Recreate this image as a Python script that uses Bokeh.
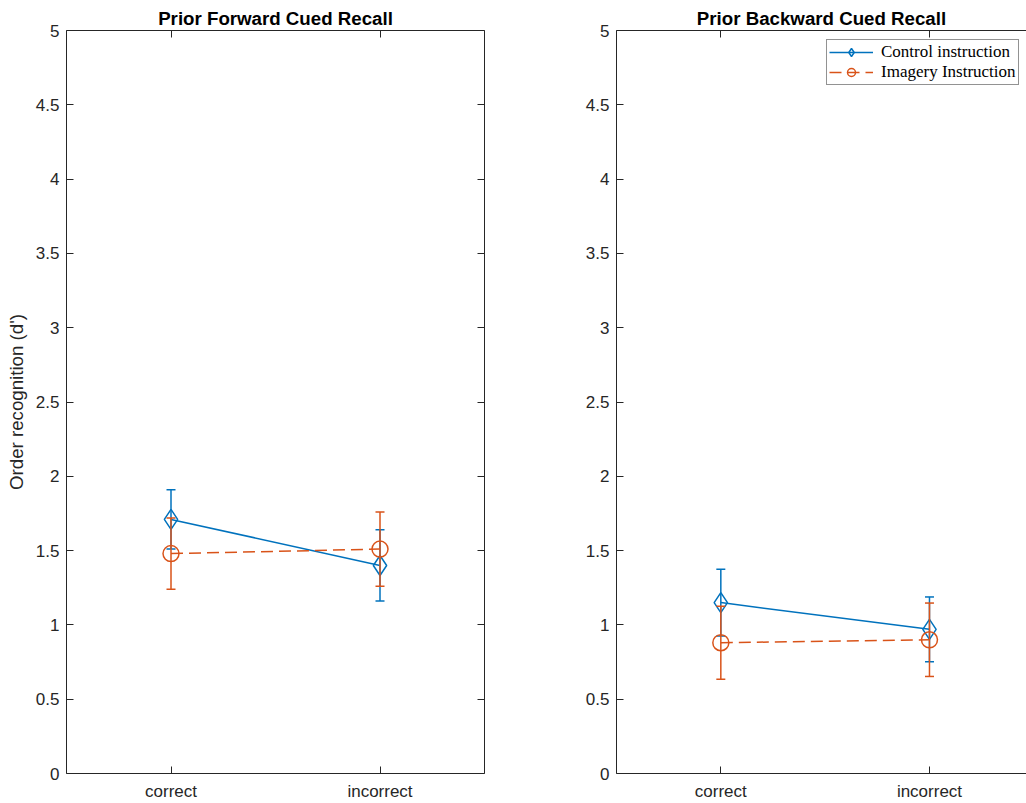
from bokeh.plotting import figure
from bokeh.layouts import row
from bokeh.models import (ColumnDataSource, Range1d, LinearAxis, FixedTicker,
                          CustomJSTickFormatter, CustomLabelingPolicy,
                          Legend, LegendItem)
from bokeh.embed import file_html
from bokeh.resources import INLINE

# --- data -------------------------------------------------------------
categories = ["correct", "incorrect"]
y_ticks = [0, 0.5, 1, 1.5, 2, 2.5, 3, 3.5, 4, 4.5, 5]

fwd_control_mean = [1.71, 1.40]
fwd_control_err = [0.20, 0.24]
fwd_imagery_mean = [1.48, 1.51]
fwd_imagery_err = [0.24, 0.25]

bwd_control_mean = [1.15, 0.97]
bwd_control_err = [0.225, 0.218]
bwd_imagery_mean = [0.88, 0.90]
bwd_imagery_err = [0.245, 0.247]

# --- style ------------------------------------------------------------
BLUE = "#0072BD"
ORANGE = "#D95319"
AXC = "#262626"
SANS = "Liberation Sans"
SERIF = "Liberation Serif"
TICK_FS = "17px"
LABEL_FS = "18.7px"

x_pos = [i + 1 for i in range(len(categories))]
x_labels = {i + 1: c for i, c in enumerate(categories)}


def style_axis(ax, show_labels=True):
    ax.axis_line_color = AXC
    ax.axis_line_width = 1
    ax.major_tick_line_color = AXC
    ax.major_tick_in = 7
    ax.major_tick_out = 0
    ax.minor_tick_line_color = None
    ax.major_label_text_font = SANS
    ax.major_label_text_font_size = TICK_FS
    ax.major_label_text_color = AXC
    if not show_labels:
        # tick marks only (box sides): no labels drawn
        ax.major_label_text_font_size = "0px"
        ax.major_label_standoff = 0
        ax.major_label_policy = CustomLabelingPolicy(code="return [];")


def add_series(p, mean, err, color, marker, size, dash):
    lo = [m - e for m, e in zip(mean, err)]
    hi = [m + e for m, e in zip(mean, err)]
    src = ColumnDataSource(dict(x=x_pos, m=mean, lo=lo, hi=hi))
    p.segment(x0="x", y0="lo", x1="x", y1="hi", source=src,
              line_color=color, line_width=1.5)
    p.scatter(x="x", y="lo", source=src, marker="dash", size=9,
              line_color=color, line_width=1.5)
    p.scatter(x="x", y="hi", source=src, marker="dash", size=9,
              line_color=color, line_width=1.5)
    ln = p.line(x="x", y="m", source=src, line_color=color, line_width=1.5,
                line_dash=dash)
    mk = p.scatter(x="x", y="m", source=src, marker=marker, size=size,
                   line_color=color, line_width=1.5, fill_color=None)
    return ln, mk


def make_panel(title, width, x_end, border_left, border_right, right_spine,
               control, imagery, ylabel=None):
    p = figure(width=width, height=803, output_backend="svg",
               toolbar_location=None, title=title,
               x_range=Range1d(0.5, x_end), y_range=Range1d(0, 5),
               min_border_left=border_left, min_border_right=border_right,
               min_border_top=30, min_border_bottom=30,
               x_axis_location=None, y_axis_location=None)
    p.outline_line_color = None
    p.grid.visible = False
    p.background_fill_color = "white"
    p.border_fill_color = "white"

    p.title.align = "center"
    p.title.text_font = SANS
    p.title.text_font_size = LABEL_FS
    p.title.text_font_style = "bold"
    p.title.text_color = "#000000"
    p.title.standoff = 4

    xb = LinearAxis(ticker=FixedTicker(ticks=x_pos),
                    major_label_overrides=x_labels)
    style_axis(xb)
    xb.major_label_standoff = 8
    p.add_layout(xb, "below")

    xt = LinearAxis(ticker=FixedTicker(ticks=x_pos))
    style_axis(xt, show_labels=False)
    p.add_layout(xt, "above")

    yl = LinearAxis(ticker=FixedTicker(ticks=y_ticks),
                    formatter=CustomJSTickFormatter(code="return tick.toString();"))
    style_axis(yl)
    yl.major_label_standoff = 7
    if ylabel:
        yl.axis_label = ylabel
        yl.axis_label_text_font = SANS
        yl.axis_label_text_font_size = LABEL_FS
        yl.axis_label_text_font_style = "normal"
        yl.axis_label_text_color = AXC
        yl.axis_label_standoff = 6
    p.add_layout(yl, "left")

    if right_spine:
        yr = LinearAxis(ticker=FixedTicker(ticks=y_ticks))
        style_axis(yr, show_labels=False)
        p.add_layout(yr, "right")

    c_ln, c_mk = add_series(p, control[0], control[1], BLUE, "diamond", 20, "solid")
    i_ln, i_mk = add_series(p, imagery[0], imagery[1], ORANGE, "circle", 16, "12 6")
    return p, (c_ln, c_mk), (i_ln, i_mk)


p1, _, _ = make_panel("Prior Forward Cued Recall", 540, 2.5, 66, 56, True,
                      (fwd_control_mean, fwd_control_err),
                      (fwd_imagery_mean, fwd_imagery_err),
                      ylabel="Order recognition (d')")

p2, ctrl, imag = make_panel("Prior Backward Cued Recall", 486, 2.465, 76, 0, False,
                            (bwd_control_mean, bwd_control_err),
                            (bwd_imagery_mean, bwd_imagery_err))

legend = Legend(items=[LegendItem(label="Control instruction", renderers=list(ctrl)),
                       LegendItem(label="Imagery Instruction", renderers=list(imag))],
                location=(210, 688))
legend.label_text_font = SERIF
legend.label_text_font_size = "17px"
legend.label_text_color = "#000000"
legend.glyph_width = 44
legend.glyph_height = 20
legend.label_height = 20
legend.label_standoff = 8
legend.spacing = 0
legend.padding = 2
legend.border_line_color = AXC
legend.border_line_width = 1
legend.background_fill_color = "white"
legend.background_fill_alpha = 1
p2.add_layout(legend)

layout = row(p1, p2)
open("out.html", "w").write(file_html(layout, INLINE))
